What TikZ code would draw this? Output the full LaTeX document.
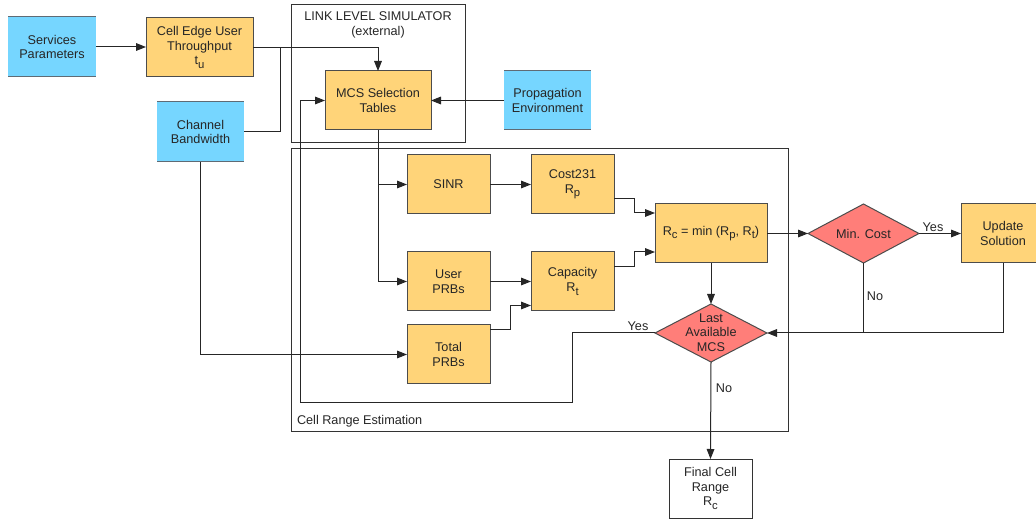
\documentclass[tikz,border=0pt]{standalone}
\usepackage{fontspec}
\setmainfont{Liberation Sans}
\usetikzlibrary{arrows.meta,shapes.geometric,calc}
\definecolor{skyb}{HTML}{76D6FF}
\definecolor{cantal}{HTML}{FFD479}
\definecolor{salmonr}{HTML}{FF7E79}
\definecolor{bline}{HTML}{5F6B75}
\newcommand\sbs[1]{\raisebox{-0.55ex}{\fontsize{8.5}{8.5}\selectfont #1}}
\begin{document}
\begin{tikzpicture}[x=0.75pt,y=-0.75pt,
  every node/.style={font=\fontsize{9.5}{11}\selectfont, text=black!85, inner sep=0pt, outer sep=0pt, align=center},
  sz/.style 2 args={minimum width=#1*0.75pt, minimum height=#2*0.75pt},
  obox/.style={draw=black!70, fill=cantal, line width=0.75pt},
  bbox/.style={fill=skyb},
  wbox/.style={draw=black!80, fill=white, line width=0.75pt},
  dia/.style={diamond, draw=black!70, fill=salmonr, line width=0.75pt},
  frame/.style={draw=black!80, line width=0.75pt},
  conn/.style={draw=black!85, line width=0.75pt},
  arr/.style={conn, -{Triangle[length=7.5pt,width=5.75pt]}},
  bl/.style={draw=bline, line width=0.75pt}
]
\useasboundingbox (0,0) rectangle (1036,520);
\clip (0,0) rectangle (1036,520);

% frames
\draw[frame] (291,5) rectangle (465,143);
\draw[frame] (291,149) rectangle (788,432);
\node (llst) at (378,25) {LINK LEVEL SIMULATOR\\(external)};
\node[anchor=west] (cret) at (297,421) {Cell Range Estimation};

% nodes
\node[bbox, sz={88}{60}] (sp) at (52,47) {Services\\Parameters};
\draw[bl] (sp.north west) -- (sp.north east);
\draw[bl] (sp.south west) -- (sp.south east);
\node[obox, sz={107}{59}] (ceu) at (199.5,47.5) {Cell Edge User\\Throughput\\t\sbs{u}};
\node[bbox, sz={87}{60}] (cb) at (200.5,132) {Channel\\Bandwidth};
\draw[bl] (cb.north west) -- (cb.north east);
\draw[bl] (cb.south west) -- (cb.south east);
\node[obox, sz={106}{59}] (mcs) at (378,100.5) {MCS Selection\\Tables};
\node[bbox, sz={87}{59}] (pe) at (547.5,100.5) {Propagation\\Environment};
\draw[bl] (pe.north west) -- (pe.north east);
\draw[bl] (pe.south west) -- (pe.south east);

\node[obox, sz={83}{59}] (sinr) at (448.5,184.5) {SINR};
\node[obox, sz={83}{59}] (cost) at (572.5,184.5) {Cost231\\R\sbs{p}};
\node[obox, sz={83}{59}] (uprb) at (448.5,281.5) {User\\PRBs};
\node[obox, sz={83}{59}] (cap) at (572.5,281.5) {Capacity\\R\sbs{t}};
\node[obox, sz={83}{59}] (tprb) at (448.5,354.5) {Total\\PRBs};
\node[obox, sz={112}{59}] (rc) at (711,233.5) {R\sbs{c} = min (R\sbs{p}, R\sbs{t})};
\node[dia, sz={111}{59}] (minc) at (863.5,233.5) {};
\node (minct) at (863.5,233.5) {Min. Cost};
\node[obox, sz={84}{59}] (upd) at (1003,233.5) {Update\\Solution};
\node[dia, sz={112}{58}] (lmcs) at (711,333) {};
\node (lmcst) at (711,332.5) {Last\\Available\\MCS};
\node[wbox, sz={83}{59}] (fcr) at (710.5,488.5) {Final Cell\\Range\\R\sbs{c}};

% labels
\node (yes1) at (933,227) {Yes};
\node (no1) at (875,296) {No};
\node (yes2) at (638,326) {Yes};
\node (no2) at (724,388) {No};

% connectors
\coordinate (j1) at (280,47.5);
\coordinate (lp1) at (572,403);
\coordinate (lp2) at (300,403);
\draw[arr] (sp.east) -- (ceu.west |- sp.east);
\draw[arr] (ceu.east) -| (mcs.north);
\draw[conn] (cb.east) -| (j1);
\draw[arr] (cb.south) |- (tprb.west);
\draw[arr] (pe.west) -- (mcs.east);
\draw[arr] (mcs.south) |- (uprb.west);
\draw[arr] (mcs.south |- sinr.west) -- (sinr.west);
\draw[arr] (sinr.east) -- (cost.west);
\draw[arr] (uprb.east) -- (cap.west);
\draw[arr] ($(tprb.north east)+(0,4.5)$) -- ++(20,0) |- ($(cap.south west)+(0,-5.5)$);
\draw[arr] ($(cost.east)+(0,14.5)$) -- ++(20,0) |- ($(rc.north west)+(0,9)$);
\draw[arr] ($(cap.east)+(0,-14.5)$) -- ++(20,0) |- ($(rc.south west)+(0,-11)$);
\draw[arr] (rc.east) -- (minc.west);
\draw[arr] (minc.east) -- (upd.west);
\draw[arr] (upd.south) |- (lmcs.east);
\draw[conn] (minc.south) -- (minc.south |- lmcs.east);
\draw[arr] (rc.south) -- (lmcs.north);
\draw[arr] (lmcs.south) -- (fcr.north);
\draw[arr] (lmcs.west) -| (lp1) -- (lp2) |- (mcs.west);
\end{tikzpicture}
\end{document}
